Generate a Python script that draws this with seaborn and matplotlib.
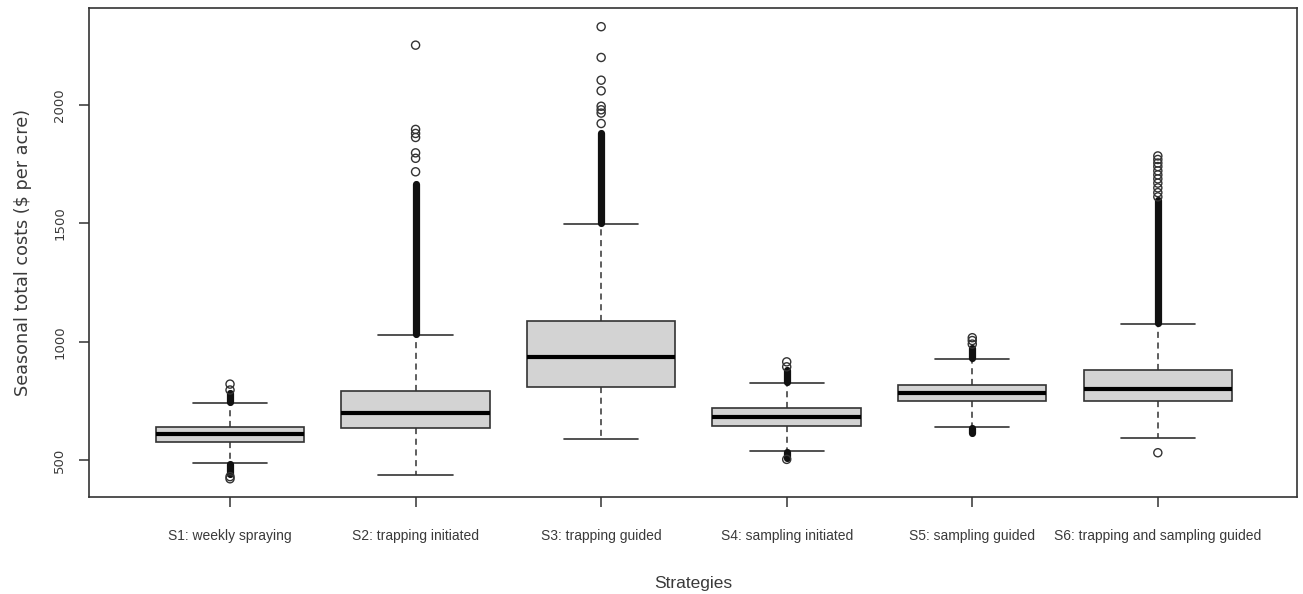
import matplotlib
matplotlib.use("Agg")
import matplotlib.pyplot as plt
import seaborn as sns
import pandas as pd
from matplotlib import font_manager

# ---------------- data ----------------
categories = ["S1: weekly spraying", "S2: trapping initiated", "S3: trapping guided",
              "S4: sampling initiated", "S5: sampling guided",
              "S6: trapping and sampling guided"]
q1 = [577, 634, 810, 644, 749, 749]
medians = [611, 697, 935, 682, 782, 801]
q3 = [641, 792, 1087, 718, 817, 879]
whisker_lo = [486, 438, 589, 538, 641, 594]
whisker_hi = [740, 1028, 1496, 824, 925, 1075]
# individually visible outliers
outliers_sparse = [
    [796, 821, 430, 421],
    [2253, 1897, 1880, 1863, 1798, 1775, 1718],
    [2331, 2201, 2105, 2060, 1995, 1980, 1966, 1922],
    [915, 894, 503],
    [1017, 1005, 990],
    [531, 1785, 1770, 1755, 1740, 1722, 1705, 1688, 1670, 1650, 1630, 1612],
]
# stretches where outliers overlap into a solid column (low, high)
outliers_dense = [
    [(745, 785), (440, 482)],
    [(1032, 1666)],
    [(1500, 1880)],
    [(828, 880), (510, 534)],
    [(930, 975), (615, 636)],
    [(1080, 1598)],
]
y_ticks = [500, 1000, 1500, 2000]
x_title = "Strategies"
y_title = "Seasonal total costs ($ per acre)"

# ---------------- style ----------------
sns.set_style("white")


def pick(names):
    for n in names:
        try:
            font_manager.findfont(n, fallback_to_default=False)
            return n
        except Exception:
            pass
    return "DejaVu Sans"


narrow = pick(["Liberation Sans Narrow", "Arial Narrow", "Liberation Sans"])
have_narrow = narrow != "Liberation Sans"
plt.rcParams["font.family"] = ["Liberation Sans", "DejaVu Sans"]

txt = "#3a3a3a"
edge = "#333333"

fig = plt.figure(figsize=(13.03, 5.94), dpi=100)
ax = fig.add_axes([89 / 1303, (594 - 497) / 594, (1297 - 89) / 1303, (497 - 8) / 594])

positions = list(range(1, len(categories) + 1))
stats = []
for i, c in enumerate(categories):
    stats.append(dict(label=c, q1=q1[i], med=medians[i], q3=q3[i],
                      whislo=whisker_lo[i], whishi=whisker_hi[i], fliers=[]))

ax.bxp(stats, positions=positions, widths=0.8, patch_artist=True, showfliers=False,
       boxprops=dict(facecolor="#d3d3d3", edgecolor=edge, linewidth=1.2),
       medianprops=dict(color="black", linewidth=3, solid_capstyle="butt"),
       whiskerprops=dict(color=edge, linewidth=1.1, linestyle=(0, (4, 3))),
       capprops=dict(color=edge, linewidth=1.2), capwidths=0.4)

# dense outlier columns
for i, runs in enumerate(outliers_dense):
    for lo, hi in runs:
        ax.plot([positions[i], positions[i]], [lo, hi], color="#111111", lw=5.2,
                solid_capstyle="round", zorder=3)

# sparse outliers
rows = []
for i, vals in enumerate(outliers_sparse):
    for v in vals:
        rows.append({"pos": positions[i], "value": v})
df_out = pd.DataFrame(rows)
sns.scatterplot(data=df_out, x="pos", y="value", ax=ax, marker="o", s=34,
                facecolor="none", edgecolor="#333333", linewidth=1.0, zorder=4)

ax.set_xlim(0.24, 6.75)
ax.set_ylim(344, 2410)
ax.set_xticks(positions)
ax.set_xticklabels(categories, family=[narrow, "DejaVu Sans"],
                   fontsize=12 if have_narrow else 10)
ax.set_yticks(y_ticks)
ax.set_yticklabels([str(t) for t in y_ticks], rotation=90, va="center",
                   family=["DejaVu Sans"], fontsize=9.5)

for s in ax.spines.values():
    s.set_visible(True)
    s.set_color(edge)
    s.set_linewidth(1.2)

ax.tick_params(axis="both", which="both", direction="out", length=7, width=1.1,
               color=edge, labelcolor=txt)
ax.tick_params(axis="x", pad=16, bottom=True)
ax.tick_params(axis="y", pad=9.5, left=True)

ax.set_xlabel(x_title, fontsize=14.5 if have_narrow else 12.5, color=txt,
              labelpad=24, family=[narrow, "DejaVu Sans"])
ax.set_ylabel(y_title, fontsize=12.7, color=txt, labelpad=15,
              family=["DejaVu Sans"])
ax.grid(False)

fig.savefig("out.png", dpi=100)
